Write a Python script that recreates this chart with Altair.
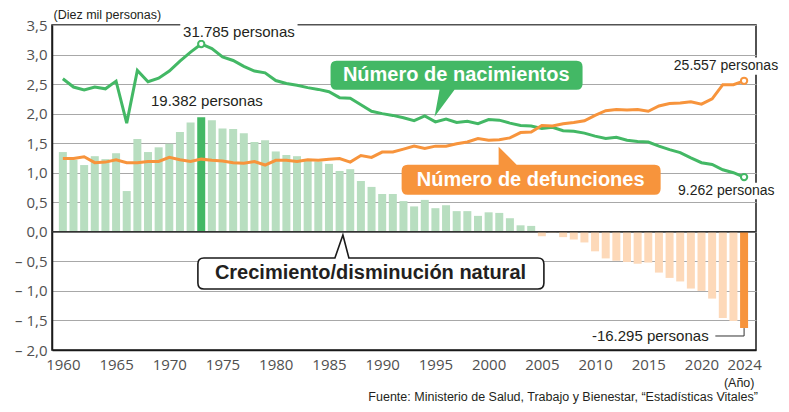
import altair as alt
import pandas as pd

# ---------------- data (10k persons) ----------------
years = list(range(1960, 2025))
births = [2.59, 2.45, 2.40, 2.45, 2.42, 2.55, 1.84, 2.73, 2.54, 2.60,
          2.72, 2.89, 3.04, 3.1785, 3.10, 2.96, 2.90, 2.80, 2.72, 2.69,
          2.56, 2.51, 2.48, 2.44, 2.41, 2.37, 2.27, 2.26, 2.15, 2.04,
          2.00, 1.97, 1.93, 1.88, 1.96, 1.86, 1.91, 1.85, 1.87, 1.83,
          1.90, 1.89, 1.84, 1.80, 1.79, 1.75, 1.77, 1.71, 1.70, 1.67,
          1.62, 1.58, 1.60, 1.55, 1.53, 1.52, 1.45, 1.39, 1.34, 1.25,
          1.17, 1.14, 1.05, 1.00, 0.9262]
deaths = [1.24, 1.24, 1.27, 1.17, 1.18, 1.22, 1.17, 1.17, 1.19, 1.19,
          1.26, 1.22, 1.19, 1.23, 1.21, 1.20, 1.17, 1.16, 1.19, 1.13,
          1.21, 1.21, 1.19, 1.22, 1.21, 1.23, 1.24, 1.18, 1.29, 1.26,
          1.35, 1.35, 1.40, 1.45, 1.41, 1.45, 1.45, 1.49, 1.52, 1.58,
          1.55, 1.56, 1.59, 1.68, 1.69, 1.80, 1.79, 1.83, 1.85, 1.88,
          1.97, 2.05, 2.07, 2.06, 2.07, 2.04, 2.13, 2.17, 2.18, 2.20,
          2.16, 2.25, 2.49, 2.49, 2.5557]
natural = [1.35, 1.22, 1.13, 1.28, 1.23, 1.33, 0.69, 1.57, 1.35, 1.43,
           1.49, 1.69, 1.85, 1.9382, 1.89, 1.75, 1.74, 1.67, 1.52, 1.55,
           1.36, 1.30, 1.28, 1.21, 1.19, 1.15, 1.03, 1.06, 0.86, 0.76,
           0.64, 0.64, 0.52, 0.43, 0.54, 0.40, 0.45, 0.35, 0.35, 0.27,
           0.33, 0.32, 0.23, 0.11, 0.10, -0.075, -0.01, -0.09, -0.13, -0.18,
           -0.33, -0.45, -0.49, -0.51, -0.54, -0.52, -0.69, -0.78, -0.84, -0.96,
           -1.00, -1.13, -1.46, -1.51, -1.6295]

x_ticks = [1960, 1965, 1970, 1975, 1980, 1985, 1990, 1995, 2000, 2005,
           2010, 2015, 2020, 2024]
y_ticks = [-2.0, -1.5, -1.0, -0.5, 0.0, 0.5, 1.0, 1.5, 2.0, 2.5, 3.0, 3.5]

unit_label = "(Diez mil personas)"
year_label = "(Año)"
source_label = "Fuente: Ministerio de Salud, Trabajo y Bienestar, \u201cEstadísticas Vitales\u201d"
births_callout = "Número de nacimientos"
deaths_callout = "Número de defunciones"
natural_callout = "Crecimiento/disminución natural"

# ---------------- styling ----------------
GREEN = "#43b865"
GREEN_LIGHT = "#b8dec0"
ORANGE = "#f7943c"
ORANGE_LIGHT = "#fdd9b9"
INK = "#231f20"
TICK_FONT = "Open Sans"
TEXT_FONT = "Liberation Sans"

df = pd.DataFrame({"year": years, "births": births, "deaths": deaths, "natural": natural})
i_max = df["natural"].idxmax()
i_min = df["natural"].idxmin()


def bar_color(i, v):
    if i == i_max:
        return GREEN
    if i == i_min:
        return ORANGE
    return GREEN_LIGHT if v >= 0 else ORANGE_LIGHT


df["color"] = [bar_color(i, v) for i, v in enumerate(df["natural"])]


def persons(v):
    n = int(round(v * 10000))
    s = f"{abs(n):,}".replace(",", ".")
    return ("-" if n < 0 else "") + s + " personas"


xs = alt.Scale(domain=[1959.45, 2024.65], nice=False, zero=False)
ys = alt.Scale(domain=[-2.0, 3.5], nice=False, zero=False)

x_axis = alt.Axis(values=x_ticks, format="d", grid=False, ticks=False, title=None,
                  labelFont=TICK_FONT, labelFontSize=15, labelColor="#505050",
                  labelPadding=7, domainColor="#1a1a1a", domainWidth=1.5,
                  labelFlush=False, labelOverlap=False)
y_axis = alt.Axis(values=y_ticks, grid=True, gridColor="#a8a8a8", gridWidth=1,
                  ticks=False, labelFont=TICK_FONT, labelFontSize=15,
                  labelColor="#505050", labelPadding=5, domainColor="#1a1a1a",
                  domainWidth=1.5,
                  labelExpr="datum.value < 0 ? '\u2013 ' + replace(format(-datum.value, '.1f'), '.', ',') : replace(format(datum.value, '.1f'), '.', ',')",
                  title=unit_label, titleAngle=0, titleAlign="left", titleBaseline="middle",
                  titleX=1, titleY=-11, titleFont=TEXT_FONT, titleFontSize=12.5,
                  titleFontWeight="normal", titleColor=INK, labelFlush=False)


def X(field):
    return alt.X(field, scale=xs, axis=x_axis)


def Y(field):
    return alt.Y(field, scale=ys, axis=y_axis)


base = alt.Chart(df)

bars = base.mark_bar(size=8).encode(
    x=X("year:Q"),
    y=Y("natural:Q"),
    y2=alt.datum(0),
    color=alt.Color("color:N", scale=None),
)

zero_rule = alt.Chart(pd.DataFrame({"y": [0]})).mark_rule(color="#333333", strokeWidth=1.5).encode(
    y=Y("y:Q"))

births_line = base.mark_line(color=GREEN, strokeWidth=3).encode(x=X("year:Q"), y=Y("births:Q"))
deaths_line = base.mark_line(color=ORANGE, strokeWidth=3).encode(x=X("year:Q"), y=Y("deaths:Q"))

i_bmax = df["births"].idxmax()
last = len(df) - 1
pts = pd.DataFrame({
    "x": [years[i_bmax], years[last], years[last]],
    "y": [births[i_bmax], births[last], deaths[last]],
    "c": [GREEN, GREEN, ORANGE],
})
end_points = alt.Chart(pts).mark_point(shape="circle", size=40, filled=False, fill="white",
                                       strokeWidth=2, opacity=1).encode(
    x=X("x:Q"), y=Y("y:Q"), stroke=alt.Stroke("c:N", scale=None))


def text_layer(x, y, text, **kw):
    d = pd.DataFrame({"x": [x], "y": [y], "t": [text]})
    return alt.Chart(d).mark_text(**kw).encode(x=X("x:Q"), y=Y("y:Q"), text="t:N")


def white_box(x1, x2, y1, y2):
    d = pd.DataFrame({"x": [x1], "x2": [x2], "y": [y1], "y2": [y2]})
    return alt.Chart(d).mark_rect(color="white").encode(
        x=X("x:Q"), x2="x2:Q", y=Y("y:Q"), y2="y2:Q")


def callout(x, y, path, fill, stroke=None, sw=0):
    d = pd.DataFrame({"x": [x], "y": [y]})
    kw = dict(shape=path, size=4, filled=True, fill=fill, opacity=1)
    if stroke:
        kw.update(stroke=stroke, strokeWidth=sw)
    else:
        kw.update(strokeWidth=0)
    return alt.Chart(d).mark_point(**kw).encode(x=X("x:Q"), y=Y("y:Q"))


path_g = ("M0,0 L5,-27 L-98,-27 Q-104,-27 -104,-33 L-104,-50 Q-104,-56 -98,-56 "
          "L142,-56 Q148,-56 148,-50 L148,-33 Q148,-27 142,-27 L20,-27 Z")
path_o = ("M0,0 L18,18 L156,18 Q162,18 162,24 L162,42 Q162,48 156,48 L-91,48 "
          "Q-97,48 -97,42 L-97,24 Q-97,18 -91,18 L0,18 Z")
path_w = ("M0,0 L6,23 L195,23 Q201,23 201,29 L201,48 Q201,54 195,54 L-139,54 "
          "Q-145,54 -145,48 L-145,29 Q-145,23 -139,23 L-8,23 Z")

lbl = dict(font=TEXT_FONT, fontSize=15, color=INK, baseline="middle")
lbl_r = dict(font=TEXT_FONT, fontSize=14, color=INK, baseline="middle")
big = dict(font=TEXT_FONT, fontSize=20, fontWeight="bold", baseline="middle", align="center")

leader = pd.DataFrame({"x": [2021.3, 2024.0, 2024.0], "y": [-1.763, -1.763, natural[last]],
                       "o": [0, 1, 2]})
leader_line = alt.Chart(leader).mark_line(color="#333333", strokeWidth=1).encode(
    x=X("x:Q"), y=Y("y:Q"), order="o:Q")

layers = [
    bars, zero_rule, births_line, deaths_line, end_points,
    white_box(1971.03, 1982.05, 3.585, 3.246),
    white_box(2017.2, 2028.0, 2.95, 2.66),
    white_box(2017.5, 2028.0, 0.83, 0.55),
    text_layer(1976.54, 3.387, persons(births[i_bmax]), align="center", **lbl),
    text_layer(1973.53, 2.219, persons(natural[i_max]), align="center", **lbl),
    text_layer(2017.4, 2.811, persons(deaths[last]), align="left", **lbl_r),
    text_layer(2017.8, 0.691, persons(births[last]), align="left", **lbl_r),
    text_layer(2020.67, -1.763, persons(natural[last]), align="right", **lbl),
    leader_line,
    callout(1994.92, 1.948, path_g, GREEN),
    callout(2000.94, 1.44, path_o, ORANGE),
    callout(1986.31, -0.054, path_w, "white", stroke="#1a1a1a", sw=1.6),
    text_layer(1996.96, 2.649, births_callout, color="white", **big),
    text_layer(2003.95, 0.877, deaths_callout, color="white", **big),
    text_layer(1988.9, -0.705, natural_callout, color=INK, **big),
    text_layer(2023.54, -2.56, year_label, align="center", font=TEXT_FONT, fontSize=12.5,
               color=INK, baseline="middle"),
    text_layer(2025.3, -2.795, source_label, align="right", font=TEXT_FONT, fontSize=12.5,
               color=INK, baseline="middle"),
]

chart = alt.layer(*layers).properties(
    width=704, height=325,
    padding={"left": 44, "top": 17, "right": 25, "bottom": 54},
    autosize=alt.AutoSizeParams(type="none"),
).configure_view(stroke="#1a1a1a", strokeWidth=1.5)

chart.save("out.html", embed_options={"renderer": "svg", "actions": False})
